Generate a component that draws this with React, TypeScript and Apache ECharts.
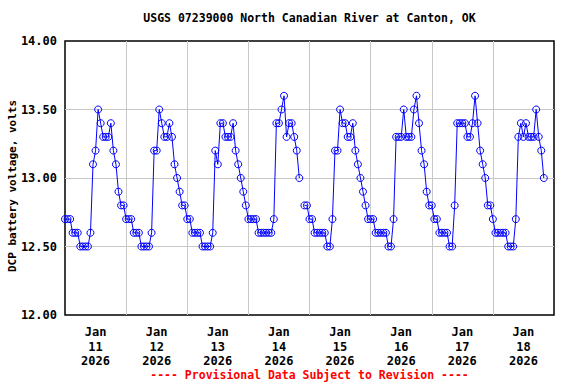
import React, { useEffect, useRef } from "react";
import * as echarts from "echarts";

// Hourly DCP battery voltage readings (volts), one array per day, starting at 00:00
const jan11 = [12.7,12.7,12.7,12.6,12.6,12.6,12.5,12.5,12.5,12.5,12.6,13.1,13.2,13.5,13.4,13.3,13.3,13.3,13.4,13.2,13.1,12.9,12.8,12.8];
const jan12 = [12.7,12.7,12.7,12.6,12.6,12.6,12.5,12.5,12.5,12.5,12.6,13.2,13.2,13.5,13.4,13.3,13.3,13.4,13.3,13.1,13.0,12.9,12.8,12.8];
const jan13 = [12.7,12.7,12.6,12.6,12.6,12.6,12.5,12.5,12.5,12.5,12.6,13.2,13.1,13.4,13.4,13.3,13.3,13.3,13.4,13.2,13.1,13.0,12.9,12.8];
const jan14 = [12.7,12.7,12.7,12.7,12.6,12.6,12.6,12.6,12.6,12.6,12.7,13.4,13.4,13.5,13.6,13.3,13.4,13.4,13.3,13.2,13.0,null,12.8,12.8];
const jan15 = [12.7,12.7,12.6,12.6,12.6,12.6,12.6,12.5,12.5,12.7,13.2,13.2,13.5,13.4,13.4,13.3,13.3,13.4,13.2,13.1,13.0,12.9,12.8,12.7];
const jan16 = [12.7,12.7,12.6,12.6,12.6,12.6,12.6,12.5,12.5,12.7,13.3,13.3,13.3,13.5,13.3,13.3,13.3,13.5,13.6,13.4,13.2,13.1,12.9,12.8];
const jan17 = [12.8,12.7,12.7,12.6,12.6,12.6,12.6,12.5,12.5,12.8,13.4,13.4,13.4,13.4,13.3,13.3,13.4,13.6,13.4,13.2,13.1,13.0,12.8,12.8];
const jan18 = [12.7,12.6,12.6,12.6,12.6,12.6,12.5,12.5,12.5,12.7,13.3,13.4,13.3,13.4,13.3,13.3,13.3,13.5,13.3,13.2,13.0];

const dayArrays = [jan11, jan12, jan13, jan14, jan15, jan16, jan17, jan18];
const dayLabels = ["Jan\n11\n2026","Jan\n12\n2026","Jan\n13\n2026","Jan\n14\n2026","Jan\n15\n2026","Jan\n16\n2026","Jan\n17\n2026","Jan\n18\n2026"];
const yTicks = [12.0, 12.5, 13.0, 13.5, 14.0];

const TITLE = "USGS 07239000 North Canadian River at Canton, OK";
const Y_NAME = "DCP battery voltage, volts";
const FOOTER = "---- Provisional Data Subject to Revision ----";

const FONT = "'DejaVu Sans Mono', 'Liberation Mono', monospace";

export default function App() {
  const ref = useRef<HTMLDivElement>(null);

  useEffect(() => {
    if (!ref.current) return;
    const chart = echarts.init(ref.current, null, { renderer: "svg" });

    const data: any[] = [];
    dayArrays.forEach((arr, di) => {
      arr.forEach((v, i) => {
        data.push([di * 24 + i, v === null ? "-" : v]);
      });
    });

    const gridLeft = 65, gridRight = 22, gridTop = 41, gridBottom = 69;
    const plotCenterX = gridLeft + (576 - gridLeft - gridRight) / 2;
    const plotCenterY = gridTop + (384 - gridTop - gridBottom) / 2;

    chart.setOption({
      animation: false,
      backgroundColor: "#fff",
      grid: {
        left: gridLeft, right: gridRight, top: gridTop, bottom: gridBottom,
        show: true, borderColor: "#000", borderWidth: 1.5, backgroundColor: "#fff",
      },
      xAxis: [
        {
          type: "value", min: 0, max: dayArrays.length * 24, interval: 24,
          axisLabel: { show: false }, axisTick: { show: false }, axisLine: { show: false },
          splitLine: { show: true, showMinLine: false, showMaxLine: false, lineStyle: { color: "#c8c8c8", width: 1 } },
        },
        {
          type: "category", data: dayLabels, boundaryGap: true, position: "bottom",
          axisLine: { show: false }, axisTick: { show: false }, splitLine: { show: false },
          axisLabel: {
            interval: 0, margin: 10, color: "#000", fontFamily: FONT, fontWeight: "bold",
            fontSize: 12, lineHeight: 14.5,
          },
        },
      ],
      yAxis: {
        type: "value", min: yTicks[0], max: yTicks[yTicks.length - 1], interval: 0.5,
        axisLine: { show: false }, axisTick: { show: false },
        splitLine: { show: true, showMinLine: false, showMaxLine: false, lineStyle: { color: "#c8c8c8", width: 1 } },
        axisLabel: {
          margin: 8, color: "#000", fontFamily: FONT, fontWeight: "bold", fontSize: 12,
          formatter: (v: number) => v.toFixed(2),
        },
      },
      series: [
        {
          type: "line", xAxisIndex: 0, yAxisIndex: 0, data,
          connectNulls: false,
          symbol: "circle", symbolSize: 7, showAllSymbol: true,
          lineStyle: { color: "#0000ff", width: 1 },
          itemStyle: { color: "rgba(0,0,0,0)", borderColor: "#0000ff", borderWidth: 1 },
          z: 3,
        },
      ],
      graphic: [
        {
          type: "text", x: plotCenterX, y: 18,
          style: { text: TITLE, textAlign: "center", textVerticalAlign: "middle", fill: "#000",
            font: `bold 11.5px ${FONT}` },
        },
        {
          type: "text", x: 12, y: plotCenterY + 8, rotation: Math.PI / 2,
          style: { text: Y_NAME, textAlign: "center", textVerticalAlign: "middle", fill: "#000",
            font: `bold 11px ${FONT}` },
        },
        {
          type: "text", x: plotCenterX, y: 375,
          style: { text: FOOTER, textAlign: "center", textVerticalAlign: "middle", fill: "#ff0000",
            font: `bold 11.5px ${FONT}` },
        },
      ],
    });

    return () => chart.dispose();
  }, []);

  return (
    <div
      ref={ref}
      style={{ position: "fixed", left: 0, top: 0, width: 576, height: 384, background: "#fff" }}
    />
  );
}
